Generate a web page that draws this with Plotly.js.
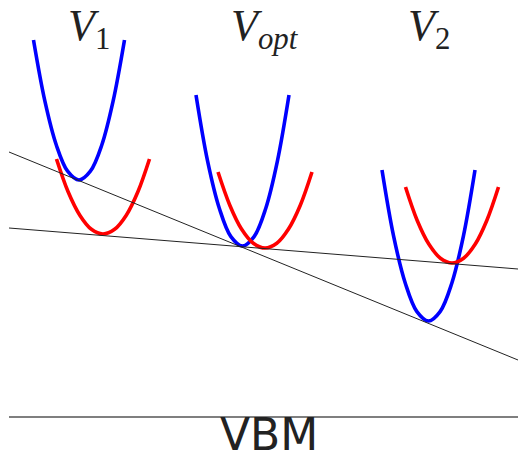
<!DOCTYPE html>
<html>
<head>
<meta charset="utf-8">
<script src="https://cdn.plot.ly/plotly-3.0.1.min.js"></script>
<style>html,body{margin:0;padding:0;background:#fff;}#chart{width:518px;height:461px;}</style>
</head>
<body>
<div id="chart"></div>
<script>
// Horizontal position (arbitrary units) and energy above the VBM (arbitrary units)
const blueV1X = [2.45, 3.59, 4.73, 5.86, 7.0, 8.14, 9.28, 10.41, 11.55];
const blueV1E = [37.7, 31.58, 27.2, 24.58, 23.7, 24.58, 27.2, 31.58, 37.7];
const redV1X = [4.75, 5.91, 7.08, 8.24, 9.4, 10.56, 11.73, 12.89, 14.05];
const redV1E = [25.8, 22.52, 20.18, 18.77, 18.3, 18.77, 20.18, 22.52, 25.8];

const blueOptX = [18.7, 19.86, 21.03, 22.19, 23.35, 24.51, 25.68, 26.84, 28.0];
const blueOptE = [32.2, 25.59, 20.88, 18.04, 17.1, 18.04, 20.88, 25.59, 32.2];
const redOptX = [20.9, 22.08, 23.25, 24.43, 25.6, 26.78, 27.95, 29.13, 30.3];
const redOptE = [24.5, 21.18, 18.8, 17.38, 16.9, 17.38, 18.8, 21.18, 24.5];

const blueV2X = [37.3, 38.46, 39.63, 40.79, 41.95, 43.11, 44.28, 45.44, 46.6];
const blueV2E = [24.7, 18.09, 13.38, 10.54, 9.6, 10.54, 13.38, 18.09, 24.7];
const redV2X = [39.65, 40.81, 41.98, 43.14, 44.3, 45.46, 46.63, 47.79, 48.95];
const redV2E = [23.0, 19.68, 17.3, 15.88, 15.4, 15.88, 17.3, 19.68, 23.0];

const steepLineX = [0, 50.9];
const steepLineE = [26.5, 5.7];
const flatLineX = [0, 50.9];
const flatLineE = [18.9, 14.8];
const vbmX = [0, 50.9];
const vbmE = [0, 0];

const labelText = ['<i>V</i><sub>1</sub>', '<i>V</i><sub><i>opt</i></sub>', '<i>V</i><sub>2</sub>'];
const labelX = [8.0, 25.6, 42.0];

const BLUE = '#0000ff', RED = '#ff0000';
function curve(x, y, color) {
  return {x: x, y: y, type: 'scatter', mode: 'lines', hoverinfo: 'skip',
          line: {color: color, width: 3.6, shape: 'spline', smoothing: 1}};
}
function straight(x, y, color, w) {
  return {x: x, y: y, type: 'scatter', mode: 'lines', hoverinfo: 'skip',
          line: {color: color, width: w}};
}

const data = [
  straight(vbmX, vbmE, '#555555', 1.6),
  curve(blueV1X, blueV1E, BLUE),
  curve(redV1X, redV1E, RED),
  curve(blueOptX, blueOptE, BLUE),
  curve(redOptX, redOptE, RED),
  curve(blueV2X, blueV2E, BLUE),
  curve(redV2X, redV2E, RED),
  straight(steepLineX, steepLineE, '#222222', 1),
  straight(flatLineX, flatLineE, '#222222', 1)
];

const annotations = labelText.map((t, i) => ({
  text: t, x: labelX[i], xref: 'x', y: 1, yref: 'paper',
  xanchor: 'center', yanchor: 'top', showarrow: false, borderpad: 0,
  font: {family: 'Liberation Serif, DejaVu Serif, serif', size: 44, color: '#222222'}
}));
annotations.push({
  text: 'VBM', x: 26.0, xref: 'x', y: 0, yref: 'paper',
  xanchor: 'center', yanchor: 'bottom', showarrow: false, borderpad: 0,
  font: {family: 'DejaVu Sans, sans-serif', size: 44, color: '#222222'}
});

const layout = {
  width: 518, height: 461,
  margin: {l: 0, r: 0, t: 0, b: 0},
  paper_bgcolor: '#ffffff', plot_bgcolor: '#ffffff',
  showlegend: false,
  xaxis: {range: [-0.9, 50.9], visible: false, fixedrange: true},
  yaxis: {range: [-4.4, 41.7], visible: false, fixedrange: true},
  annotations: annotations
};

Plotly.newPlot('chart', data, layout, {displayModeBar: false, staticPlot: true});
</script>
</body>
</html>
